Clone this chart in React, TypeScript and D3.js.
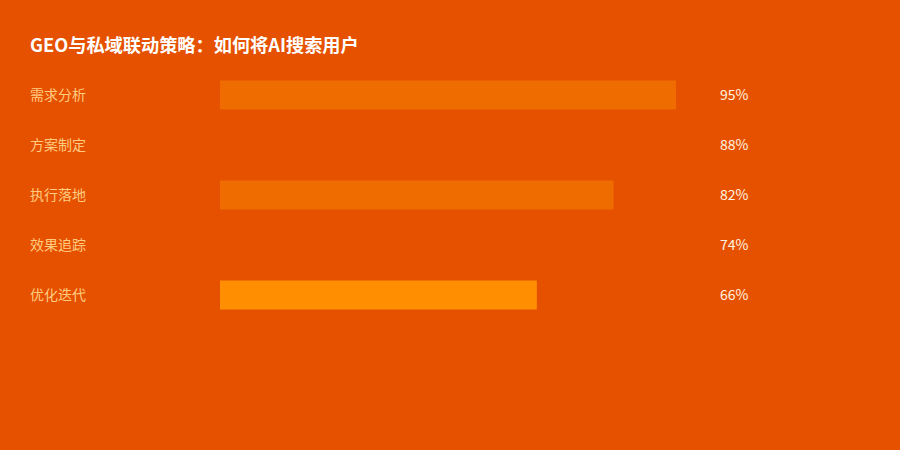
import React from "react";
import * as d3 from "d3";

const title = "GEO与私域联动策略：如何将AI搜索用户";
const stages = ["需求分析", "方案制定", "执行落地", "效果追踪", "优化迭代"];
const rates = [95, 88, 82, 74, 66];
const barColors = ["#EF6C00", "#E65100", "#EF6C00", "#E65100", "#FF8F00"];

const width = 900;
const height = 450;
const bg = "#E65100";

export default function App() {
  const x = d3.scaleLinear().domain([0, 100]).range([220, 700]);
  const y = d3
    .scaleBand<string>()
    .domain(stages)
    .range([70, 320])
    .paddingInner(0.42)
    .paddingOuter(0.21);

  const font = "'Noto Sans CJK SC', 'Noto Sans', sans-serif";

  return (
    <svg
      width={width}
      height={height}
      viewBox={`0 0 ${width} ${height}`}
      style={{ position: "fixed", left: 0, top: 0, display: "block" }}
    >
      <rect x={0} y={0} width={width} height={height} fill={bg} />
      <text
        x={30}
        y={44}
        dominantBaseline="central"
        fill="#FFFFFF"
        fontFamily={font}
        fontWeight={700}
        fontSize={18.2}
      >
        {title}
      </text>
      {stages.map((s, i) => {
        // text sits a touch above the bar's middle
        const cy = y(s)! + y.bandwidth() / 2 - 1.5;
        return (
          <g key={s}>
            <text
              x={30}
              y={cy}
              dominantBaseline="central"
              fill="#FFCC80"
              fontFamily={font}
              fontSize={14}
            >
              {s}
            </text>
            <rect
              x={x(0)}
              y={y(s)!}
              width={x(rates[i]) - x(0)}
              height={y.bandwidth()}
              fill={barColors[i]}
            />
            <text
              x={720}
              y={cy}
              dominantBaseline="central"
              fill="#FFF3E0"
              fontFamily={font}
              fontSize={14}
            >
              {rates[i]}%
            </text>
          </g>
        );
      })}
    </svg>
  );
}
